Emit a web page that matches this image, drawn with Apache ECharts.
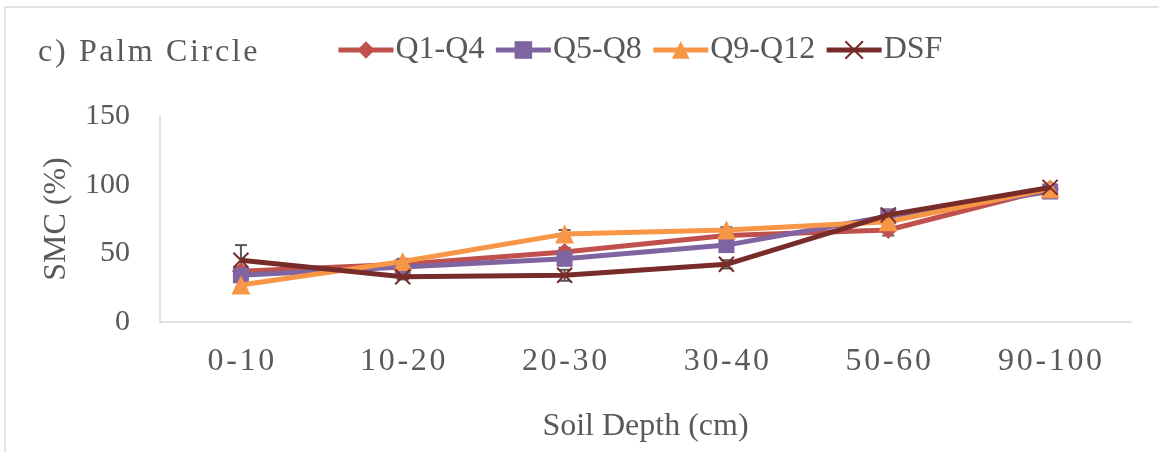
<!DOCTYPE html>
<html>
<head>
<meta charset="utf-8">
<script src="https://cdn.jsdelivr.net/npm/echarts@6/dist/echarts.min.js"></script>
<style>
  html, body { margin: 0; padding: 0; background: #fff; }
  #chart { width: 1159px; height: 452px; }
</style>
</head>
<body>
<div id="chart"></div>
<script>
// 数据
var depths = ['0-10', '10-20', '20-30', '30-40', '50-60', '90-100'];
var yTicks = [0, 50, 100, 150];
var seriesNames = ['Q1-Q4', 'Q5-Q8', 'Q9-Q12', 'DSF'];
var q1q4 = [37, 42, 51, 63, 67, 97];
var q5q8 = [34, 40, 46, 56, 77, 95];
var q9q12 = [27, 44, 64, 67, 73, 97];
var dsf = [45, 33, 34, 42, 78, 98];
var errQ1 = [3, 2, 3, 2, 4, 2];
var errQ5 = [3, 2, 4, 3, 3, 2];
var errQ9 = [2, 2, 3, 2, 3, 2];
var errDsf = [11, 2, 4, 3, 2, 2];

var textColor = '#595959';
var serif = '"Liberation Serif", "Times New Roman", serif';
var colors = ['#C0504D', '#8064A2', '#F79646', '#772C2A'];

// 字间距: 字符之间插入发丝空格
function spaced(str) {
  return str.split('').join('\u200A');
}

var errData = [];
[[q1q4, errQ1], [q5q8, errQ5], [q9q12, errQ9], [dsf, errDsf]].forEach(function (pair) {
  pair[0].forEach(function (v, i) {
    errData.push([i, v - pair[1][i], v + pair[1][i]]);
  });
});

var myChart = echarts.init(document.getElementById('chart'));

function lineSeries(name, data, idx, symbol, size) {
  return {
    name: name,
    type: 'line',
    data: data,
    symbol: symbol,
    symbolSize: size,
    z: 3 + idx,
    lineStyle: { color: colors[idx], width: 5 },
    itemStyle: { color: colors[idx] },
    emphasis: { disabled: true }
  };
}

var xSymbol = 'path://M0,0L10,10M10,0L0,10';

var option = {
  animation: false,
  graphic: [
    { type: 'line', shape: { x1: 5, y1: 7, x2: 1159, y2: 7 }, style: { stroke: '#d9d9d9', lineWidth: 1.5 } },
    { type: 'line', shape: { x1: 5, y1: 7, x2: 5, y2: 452 }, style: { stroke: '#d9d9d9', lineWidth: 1.5 } }
  ],
  title: {
    text: spaced('c) Palm Circle'),
    left: 33,
    top: 32,
    textStyle: { fontFamily: serif, fontSize: 32, color: textColor, fontWeight: 'normal' }
  },
  legend: {
    left: 331,
    top: 29,
    itemWidth: 55,
    itemHeight: 22,
    itemGap: 9,
    data: seriesNames,
    lineStyle: { width: 5 },
    textStyle: { fontFamily: serif, fontSize: 32, color: textColor, padding: [0, 0, 0, -3] }
  },
  grid: { left: 160, right: 28, top: 116, bottom: 130 },
  xAxis: {
    type: 'category',
    data: depths,
    name: 'Soil Depth (cm)',
    nameLocation: 'middle',
    nameGap: 89,
    nameTextStyle: { fontFamily: serif, fontSize: 32, color: textColor },
    axisLine: { lineStyle: { color: '#d9d9d9', width: 1.5 } },
    axisTick: { show: false },
    axisLabel: {
      margin: 24,
      interval: 0,
      fontFamily: serif,
      fontSize: 32,
      color: textColor,
      formatter: function (v) { return spaced(v); }
    }
  },
  yAxis: {
    type: 'value',
    min: yTicks[0],
    max: yTicks[yTicks.length - 1],
    interval: yTicks[1] - yTicks[0],
    name: 'SMC (%)',
    nameLocation: 'middle',
    nameGap: 87,
    nameTextStyle: { fontFamily: serif, fontSize: 32, color: textColor },
    axisLine: { show: true, lineStyle: { color: '#d9d9d9', width: 1.5 } },
    axisTick: { show: false },
    splitLine: { show: false },
    axisLabel: { margin: 30, fontFamily: serif, fontSize: 30, color: textColor }
  },
  series: [
    {
      type: 'custom',
      name: 'err',
      z: 2,
      silent: true,
      data: errData,
      renderItem: function (params, api) {
        var lo = api.coord([api.value(0), api.value(1)]);
        var hi = api.coord([api.value(0), api.value(2)]);
        var w = 6;
        var st = { stroke: '#595959', lineWidth: 2, fill: null };
        return {
          type: 'group',
          children: [
            { type: 'line', shape: { x1: lo[0], y1: lo[1], x2: hi[0], y2: hi[1] }, style: st },
            { type: 'line', shape: { x1: lo[0] - w, y1: lo[1], x2: lo[0] + w, y2: lo[1] }, style: st },
            { type: 'line', shape: { x1: hi[0] - w, y1: hi[1], x2: hi[0] + w, y2: hi[1] }, style: st }
          ]
        };
      }
    },
    lineSeries(seriesNames[0], q1q4, 0, 'diamond', 18),
    lineSeries(seriesNames[1], q5q8, 1, 'rect', 16),
    lineSeries(seriesNames[2], q9q12, 2, 'triangle', 19),
    (function () {
      var s = lineSeries(seriesNames[3], dsf, 3, xSymbol, 15);
      s.itemStyle = { color: colors[3], borderColor: colors[3], borderWidth: 2 };
      return s;
    })()
  ]
};

if (option && typeof option === 'object') {
  myChart.setOption(option, true);
}
</script>
</body>
</html>
